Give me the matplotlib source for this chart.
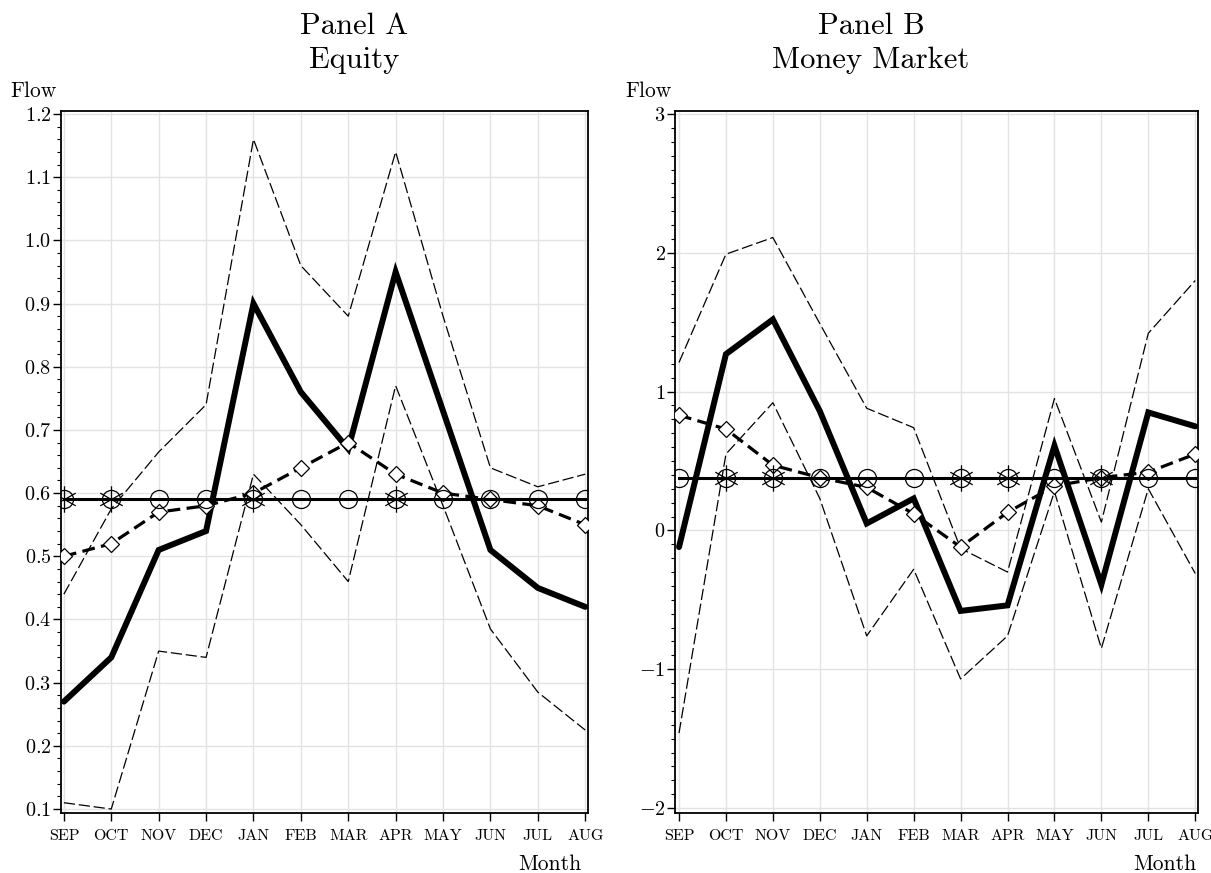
import numpy as np
import matplotlib
matplotlib.use("Agg")
import matplotlib.pyplot as plt
from matplotlib.path import Path
from matplotlib.ticker import MultipleLocator, FuncFormatter

months = ["SEP", "OCT", "NOV", "DEC", "JAN", "FEB", "MAR", "APR", "MAY", "JUN", "JUL", "AUG"]

# Panel A: Equity
eq_flow = [0.27, 0.34, 0.51, 0.54, 0.90, 0.76, 0.67, 0.95, 0.73, 0.51, 0.45, 0.42]
eq_pred = [0.50, 0.52, 0.57, 0.58, 0.60, 0.64, 0.68, 0.63, 0.60, 0.59, 0.58, 0.55]
eq_upper = [0.44, 0.575, 0.665, 0.74, 1.16, 0.96, 0.88, 1.14, 0.88, 0.64, 0.61, 0.63]
eq_lower = [0.11, 0.10, 0.35, 0.34, 0.63, 0.55, 0.46, 0.77, 0.58, 0.385, 0.285, 0.225]
eq_mean = 0.59
eq_signif = [1, 1, 0, 0, 1, 0, 0, 1, 0, 0, 0, 0]

# Panel B: Money Market
mm_flow = [-0.12, 1.27, 1.52, 0.86, 0.05, 0.23, -0.58, -0.54, 0.61, -0.39, 0.85, 0.75]
mm_pred = [0.83, 0.73, 0.47, 0.38, 0.31, 0.12, -0.12, 0.13, 0.32, 0.38, 0.42, 0.55]
mm_upper = [1.21, 1.99, 2.11, 1.49, 0.88, 0.74, -0.13, -0.30, 0.95, 0.06, 1.42, 1.80]
mm_lower = [-1.46, 0.55, 0.92, 0.23, -0.76, -0.28, -1.07, -0.76, 0.28, -0.85, 0.30, -0.31]
mm_mean = 0.38
mm_signif = [0, 1, 1, 0, 0, 0, 1, 1, 0, 1, 0, 0]

plt.rcParams["font.family"] = ["cmr10", "DejaVu Serif"]
plt.rcParams["mathtext.fontset"] = "cm"
plt.rcParams["axes.formatter.use_mathtext"] = True
plt.rcParams["axes.unicode_minus"] = True

star = Path([(0, -1), (0, 1), (-0.85, -0.48), (0.85, 0.48), (-0.85, 0.48), (0.85, -0.48)],
            [Path.MOVETO, Path.LINETO, Path.MOVETO, Path.LINETO, Path.MOVETO, Path.LINETO])

fig = plt.figure(figsize=(12.11, 8.73), dpi=100)
axA = fig.add_axes([0.0504, 0.0687, 0.4352, 0.8047])
axB = fig.add_axes([0.5576, 0.0687, 0.4317, 0.8047])

def draw(ax, flow, pred, upper, lower, mean, signif, ylim, major, minor, xlim):
    x = np.arange(len(months))
    ax.plot(x, upper, color="black", lw=0.9, dashes=(9, 3))
    ax.plot(x, lower, color="black", lw=0.9, dashes=(9, 3))
    ax.plot(x, flow, color="black", lw=4.3, solid_capstyle="round", solid_joinstyle="miter", zorder=4)
    ax.plot(x, pred, color="black", lw=2.3, dashes=(4, 2), marker="D", ms=8,
            mfc="white", mec="black", mew=0.9, zorder=5)
    m = np.full(len(months), mean)
    ax.plot(x, m, color="black", lw=2.2, marker="o", ms=13, mfc="none",
            mec="black", mew=0.9, zorder=6)
    sx = [xi for xi, s in zip(x, signif) if s]
    sy = [mean for s in signif if s]
    ax.plot(sx, sy, ls="none", marker=star, ms=19, mec="black", mew=0.9, zorder=7)

    ax.set_xlim(*xlim)
    ax.set_ylim(*ylim)
    ax.set_xticks(x, labels=months)
    ax.yaxis.set_major_locator(MultipleLocator(major))
    ax.yaxis.set_minor_locator(MultipleLocator(minor))
    ax.grid(True, which="major", color="#e3e3e3", lw=1.0, zorder=0)
    ax.set_axisbelow(True)
    for sp in ax.spines.values():
        sp.set_linewidth(1.3)
        sp.set_color("black")
    ax.tick_params(axis="y", which="major", length=6, width=1, pad=1, labelsize=14.5)
    ax.tick_params(axis="y", which="minor", length=3, width=0.8)
    ax.tick_params(axis="x", which="major", length=6, width=1, pad=6, labelsize=11.5)
    for lab in ax.get_xticklabels():
        lab.set_fontfamily(["cmr10", "DejaVu Serif"])

draw(axA, eq_flow, eq_pred, eq_upper, eq_lower, eq_mean, eq_signif,
     (0.0937, 1.2055), 0.1, 0.02, (-0.06, 11.06))
draw(axB, mm_flow, mm_pred, mm_upper, mm_lower, mm_mean, mm_signif,
     (-2.036, 3.025), 1, 0.1, (-0.08, 11.06))

axA.yaxis.set_major_formatter(FuncFormatter(lambda v, p: r"$\mathdefault{%.1f}$" % v))

fig.text(10 / 1211, 1 - 91 / 873, "Flow", fontsize=15.5, ha="left", va="center")
fig.text(625 / 1211, 1 - 91 / 873, "Flow", fontsize=15.5, ha="left", va="center")
fig.text(581 / 1211, 1 - 864 / 873, "Month", fontsize=15.5, ha="right", va="center")
fig.text(1196 / 1211, 1 - 864 / 873, "Month", fontsize=15.5, ha="right", va="center")

fig.text(354 / 1211, 1 - 43 / 873, "Panel A\nEquity", fontsize=22, ha="center", va="center",
         linespacing=1.3)
fig.text(871 / 1211, 1 - 43 / 873, "Panel B\nMoney Market", fontsize=22, ha="center", va="center",
         linespacing=1.3)

fig.savefig("out.png", dpi=100)
